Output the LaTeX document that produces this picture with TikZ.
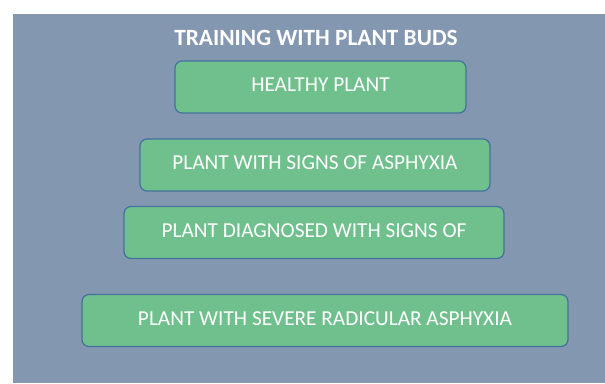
\documentclass[tikz,border=0pt]{standalone}
\usepackage{fontspec}
\setmainfont{Carlito}
\definecolor{panelgray}{RGB}{132,151,176}
\definecolor{budgreen}{RGB}{112,192,142}
\definecolor{budedge}{RGB}{65,113,156}

\begin{document}
\begin{tikzpicture}[x=1pt,y=-1pt]
    \pgfmathsetmacro{\boxh}{52}
    \tikzset{budbox/.style={draw=budedge,line width=1.2pt,fill=budgreen,rounded corners=7pt,
        text=white,font=\fontsize{21.3}{24}\selectfont,inner sep=0pt,text depth=4pt,minimum height=\boxh pt}}
    \tikzset{budtitle/.style={text=white,font=\fontsize{23.3}{26}\selectfont\bfseries,inner sep=0pt}}
    \useasboundingbox (0,0) rectangle (605,383);
    \fill[panelgray] (13,14) rectangle (605,383);
    \node[budtitle] (title) at (316,38) {TRAINING WITH PLANT BUDS};
    \node[budbox,minimum width=291pt] (healthy) at (320.5,87) {HEALTHY PLANT};
    \node[budbox,minimum width=350pt] (signs) at (315,165) {PLANT WITH SIGNS OF ASPHYXIA};
    \node[budbox,minimum width=380pt] (diagnosed) at (314,232.5) {PLANT DIAGNOSED WITH SIGNS OF};
    \node[budbox,minimum width=486pt] (severe) at (325,320.5) {PLANT WITH SEVERE RADICULAR ASPHYXIA};
\end{tikzpicture}
\end{document}
